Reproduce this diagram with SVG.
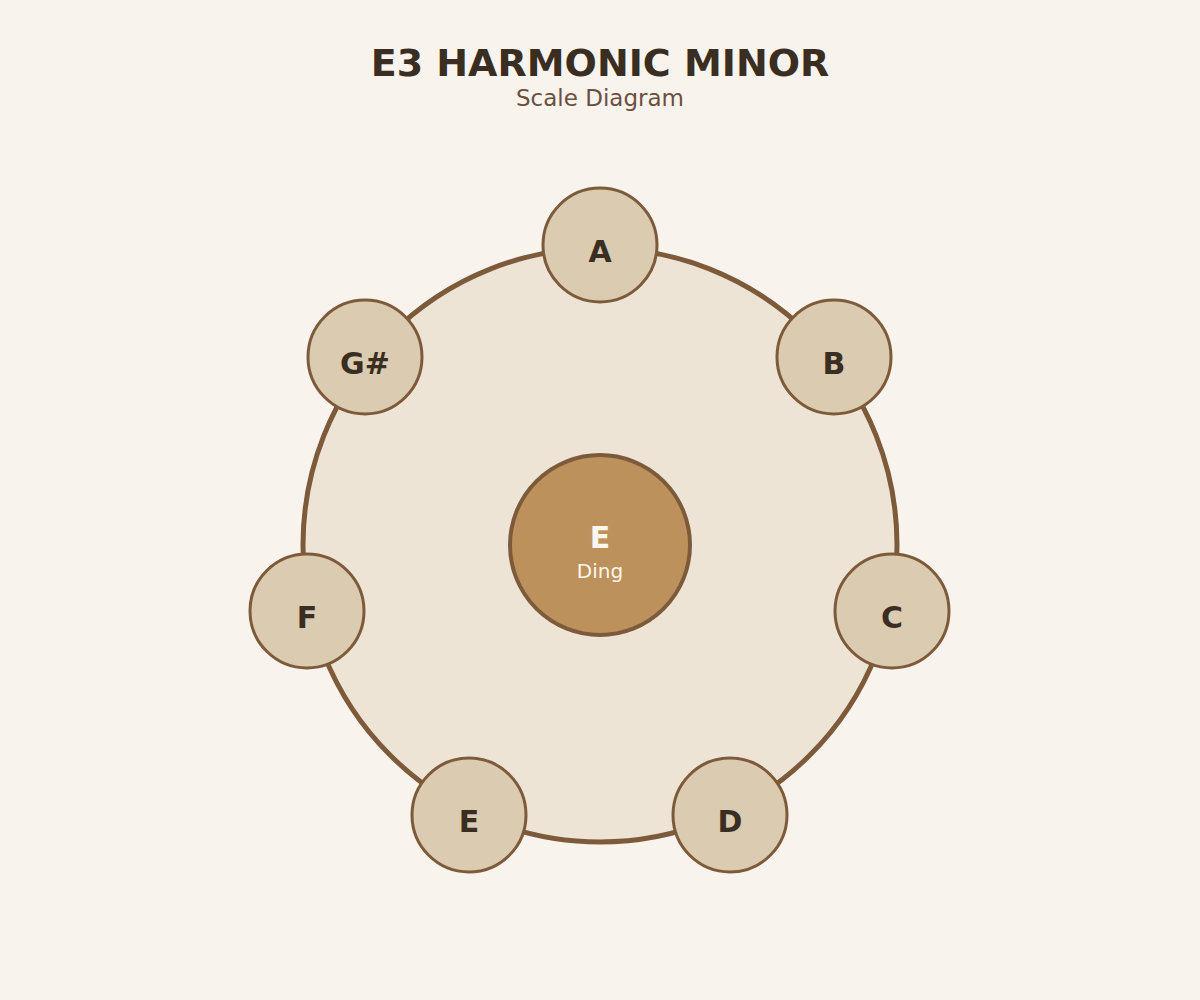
<svg xmlns="http://www.w3.org/2000/svg" width="1200" height="1000" viewBox="0 0 1200 1000">
<style>
.title{font-family:"DejaVu Sans",sans-serif;font-weight:bold;font-size:38px;fill:#3a2d22;text-anchor:middle}
.sub{font-family:"DejaVu Sans",sans-serif;font-size:23px;fill:#6b5040;text-anchor:middle}
.note circle{fill:#dbcbb0;stroke:#7d5a3a;stroke-width:3}
.note text{font-family:"DejaVu Sans",sans-serif;font-weight:bold;font-size:30px;fill:#3a2d22;text-anchor:middle}
.ding circle{fill:#bd915c;stroke:#7d5a3a;stroke-width:4}
.ding text{font-family:"DejaVu Sans",sans-serif;fill:#fdf6ec;text-anchor:middle}
</style>
<rect width="1200" height="1000" fill="#f8f3ed"/>
<text class="title" x="600" y="76">E3 HARMONIC MINOR</text>
<text class="sub" x="600" y="106">Scale Diagram</text>
<g id="body"><circle cx="600" cy="545" r="297" fill="#ede4d6" stroke="#7d5a3a" stroke-width="5"/></g>
<g id="connectors"></g>
<g id="ding" class="ding">
<circle cx="600" cy="545" r="90"/>
<text x="600" y="548" font-size="30" font-weight="bold">E</text>
<text x="600" y="578" font-size="20">Ding</text>
</g>
<g id="note-A" class="note"><circle cx="600" cy="245" r="57"/><text x="600" y="262">A</text></g>
<g id="note-B" class="note"><circle cx="834" cy="357" r="57"/><text x="834" y="374">B</text></g>
<g id="note-C" class="note"><circle cx="892" cy="611" r="57"/><text x="892" y="628">C</text></g>
<g id="note-D" class="note"><circle cx="730" cy="815" r="57"/><text x="730" y="832">D</text></g>
<g id="note-E" class="note"><circle cx="469" cy="815" r="57"/><text x="469" y="832">E</text></g>
<g id="note-F" class="note"><circle cx="307" cy="611" r="57"/><text x="307" y="628">F</text></g>
<g id="note-Gs" class="note"><circle cx="365" cy="357" r="57"/><text x="365" y="374">G#</text></g>
</svg>
